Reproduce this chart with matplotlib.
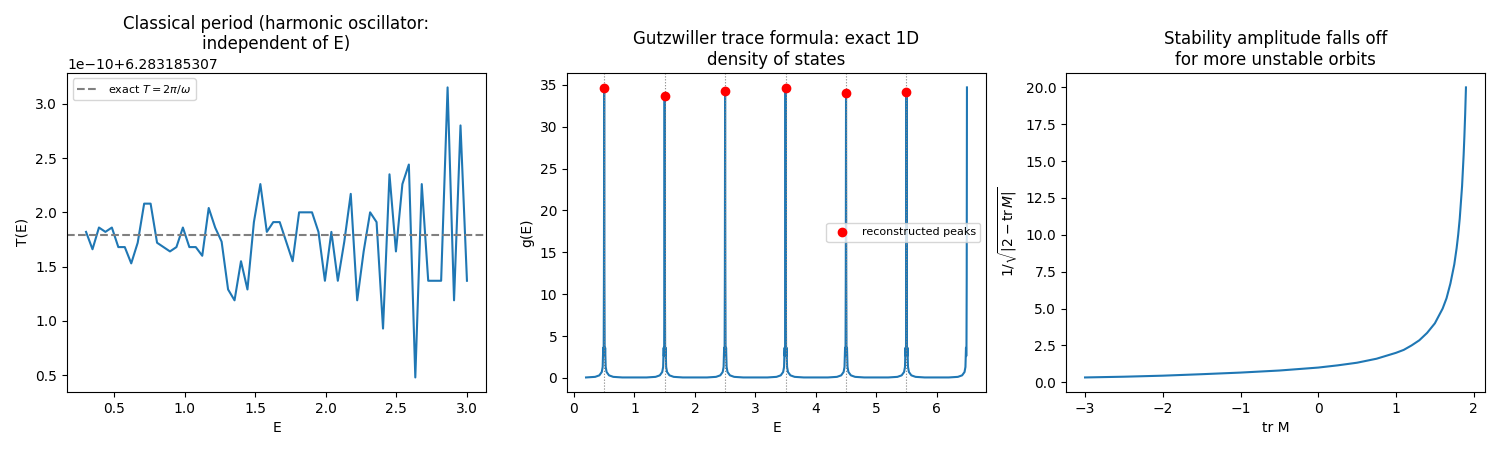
import numpy as np
import matplotlib.pyplot as plt

# panel 1: numerically computed period (offset from 6.283185307, in units of 1e-10)
E1 = np.linspace(0.3, 3.0, 60)
T_dev = [1.82, 1.66, 1.86, 1.82, 1.86, 1.68, 1.68, 1.53, 1.72, 2.08,
         2.08, 1.72, 1.68, 1.64, 1.68, 1.86, 1.68, 1.68, 1.60, 2.04,
         1.86, 1.73, 1.29, 1.19, 1.55, 1.29, 1.91, 2.26, 1.82, 1.91,
         1.91, 1.73, 1.55, 2.00, 2.00, 2.00, 1.82, 1.37, 1.82, 1.37,
         1.73, 2.17, 1.19, 1.64, 2.00, 1.91, 0.93, 2.35, 1.64, 2.26,
         2.44, 0.48, 2.26, 1.37, 1.37, 1.37, 3.15, 1.19, 2.80, 1.37]
T_base = 6.283185307
T_exact = 2 * np.pi

# panel 2: peak positions / heights, and a shared peak profile
levels = [0.5, 1.5, 2.5, 3.5, 4.5, 5.5, 6.5]
peak_heights = [34.6, 33.7, 34.3, 34.6, 34.0, 34.2, 34.7]
prof_dx = [-0.30, -0.15, -0.08, -0.04, -0.025, -0.016, -0.012, -0.008, -0.004, 0.0,
           0.004, 0.008, 0.012, 0.016, 0.025, 0.04, 0.08, 0.15, 0.30]
prof_g = [0.05, 0.12, 0.3, 0.7, 1.3, 3.6, 2.6, 3.6, 12.0, None,
          12.0, 3.6, 2.6, 3.6, 1.3, 0.7, 0.3, 0.12, 0.05]
marker_E = [0.5, 1.5, 2.5, 3.5, 4.5, 5.5]
marker_g = [34.6, 33.7, 34.3, 34.6, 34.0, 34.2]

# panel 3: stability amplitude
trM = [-3.0, -2.5, -2.0, -1.5, -1.0, -0.5, 0.0, 0.25, 0.5, 0.75, 1.0, 1.1,
       1.2, 1.3, 1.4, 1.5, 1.6, 1.65, 1.7, 1.75, 1.78, 1.8, 1.82, 1.85,
       1.87, 1.88, 1.89, 1.9]
amp = [0.33, 0.38, 0.45, 0.55, 0.66, 0.8, 1.0, 1.15, 1.33, 1.6, 2.0, 2.2,
       2.5, 2.85, 3.35, 4.0, 5.0, 5.7, 6.7, 8.0, 9.1, 10.0, 11.1, 13.3,
       15.4, 16.7, 18.2, 20.0]

fig = plt.figure(figsize=(15, 4.5), dpi=100)
ax1 = fig.add_axes([67/1500, 0.129, 419/1500, 0.709])
ax2 = fig.add_axes([567/1500, 0.129, 419/1500, 0.709])
ax3 = fig.add_axes([1066/1500, 0.129, 419/1500, 0.709])

ax1.plot(E1, T_base + np.array(T_dev) * 1e-10)
ax1.axhline(T_exact, color='gray', linestyle='--', label=r'exact $T=2\pi/\omega$')
ax1.set_xlabel('E')
ax1.set_ylabel('T(E)')
ax1.set_title('Classical period (harmonic oscillator:\nindependent of E)')
ax1.legend(loc='upper left', fontsize=8)

# build g(E) curve segment by segment
xs, ys = [], []
for lv, h in zip(levels, peak_heights):
    for dx, g in zip(prof_dx, prof_g):
        x = lv + dx
        if x < 0.2 or x > 6.5:
            continue
        xs.append(x)
        ys.append(h if g is None else g)
ax2.plot([0.2] + xs, [0.05] + ys, color='C0', lw=1.5)
for lv in marker_E:
    ax2.axvline(lv, color='gray', linestyle=':', lw=0.8)
ax2.plot(marker_E, marker_g, 'o', color='red', label='reconstructed peaks')
ax2.set_xlabel('E')
ax2.set_ylabel('g(E)')
ax2.set_title('Gutzwiller trace formula: exact 1D\ndensity of states')
ax2.legend(loc='center right', fontsize=8)

ax3.plot(trM, amp)
ax3.set_xlabel('tr M')
ax3.set_ylabel(r'$1/\sqrt{|2-\mathrm{tr}\,M|}$')
ax3.set_title('Stability amplitude falls off\nfor more unstable orbits')

fig.savefig('out.png', dpi=100)
